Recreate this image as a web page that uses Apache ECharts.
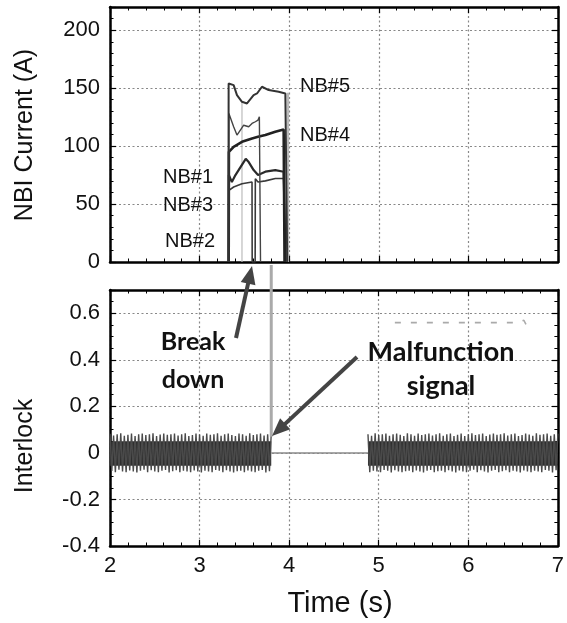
<!DOCTYPE html>
<html>
<head>
<meta charset="utf-8">
<script src="https://cdn.jsdelivr.net/npm/echarts@6/dist/echarts.min.js"></script>
<style>
html,body{margin:0;padding:0;background:#fff;}
#chart{width:567px;height:623px;}
</style>
</head>
<body>
<div id="chart"></div>
<script>
// ---------- data ----------
const xTicks = [2, 3, 4, 5, 6, 7];
const currentTicks = [0, 50, 100, 150, 200];
const interlockTicks = [-0.4, -0.2, 0, 0.2, 0.4, 0.6];

// NBI currents [time (s), current (A)]
const nb5 = [[3.322,0],[3.324,154],[3.38,152.6],[3.417,144],[3.473,138.2],[3.529,136.8],[3.603,144],[3.641,145.4],[3.696,151.2],[3.771,148.3],[3.882,146.8],[3.957,145.4],[3.975,145],[3.978,0]];
const nb2 = [[3.325,0],[3.327,128.2],[3.38,116.7],[3.417,109.5],[3.455,113.8],[3.492,118],[3.548,116.7],[3.585,119.5],[3.622,121],[3.652,122.4],[3.667,125.3],[3.678,125],[3.68,0]];
const nb4 = [[3.325,0],[3.327,95],[3.38,99.4],[3.473,103.7],[3.585,106.6],[3.652,108],[3.734,109.5],[3.845,112.4],[3.938,114.4],[3.946,114.4],[3.948,0]];
const nb1 = [[3.325,0],[3.327,75],[3.36,69],[3.40,75],[3.515,89],[3.55,86],[3.603,79.3],[3.652,75],[3.734,77.9],[3.845,79.3],[3.938,77.9],[3.957,77.9],[3.96,0]];
const nb3 = [[3.325,0],[3.327,61.8],[3.38,64.7],[3.473,67.5],[3.585,69],[3.587,0],[3.62,0],[3.622,71.8],[3.652,69],[3.734,70],[3.845,72.1],[3.938,72.1],[3.957,72],[3.96,0]];
const dropout1 = [[3.473,0],[3.473,138]];
const dropout2 = [[3.985,0],[3.985,146]];

// Interlock signal, sampled: start time, step, values (peaks)
const ilk1Start = 2.00, ilk1Step = 0.02;
const ilk1 = [
 0.082,-0.078,0.075,-0.083,0.08,-0.072,0.084,-0.08,0.074,-0.083,
 0.078,-0.075,0.083,-0.08,0.072,-0.084,0.08,-0.077,0.083,-0.072,
 0.077,-0.083,0.08,-0.074,0.084,-0.08,0.073,-0.083,0.079,-0.076,
 0.083,-0.073,0.078,-0.084,0.08,-0.079,0.083,-0.074,0.075,-0.083,
 0.08,-0.077,0.084,-0.08,0.073,-0.083,0.077,-0.075,0.083,-0.08,
 0.079,-0.084,0.074,-0.077,0.083,-0.08,0.078,-0.083,0.08,-0.073,
 0.084,-0.077,0.074,-0.083,0.08,-0.074,0.083,-0.08,0.077,-0.084,
 0.073,-0.079,0.083,-0.077,0.08,-0.083,0.074,-0.075,0.084,-0.08,
 0.077,-0.083,0.08,-0.077,0.083,-0.073,0.075,-0.084,0.08,-0.079,
 0.083];
const ilk2Start = 4.88, ilk2Step = 0.02;
const ilk2 = [
 0.08,-0.083,0.074,-0.077,0.084,-0.08,0.077,-0.083,0.08,-0.073,
 0.083,-0.077,0.074,-0.084,0.08,-0.074,0.083,-0.08,0.078,-0.083,
 0.073,-0.079,0.084,-0.077,0.08,-0.083,0.074,-0.075,0.083,-0.08,
 0.077,-0.084,0.08,-0.077,0.083,-0.073,0.075,-0.083,0.08,-0.079,
 0.084,-0.077,0.074,-0.083,0.08,-0.074,0.083,-0.08,0.073,-0.084,
 0.078,-0.075,0.083,-0.08,0.072,-0.083,0.08,-0.077,0.084,-0.072,
 0.077,-0.083,0.08,-0.074,0.083,-0.08,0.073,-0.084,0.079,-0.076,
 0.083,-0.073,0.078,-0.083,0.08,-0.079,0.084,-0.074,0.075,-0.083,
 0.08,-0.077,0.083,-0.08,0.073,-0.084,0.077,-0.075,0.083,-0.08,
 0.079,-0.083,0.074,-0.077,0.084,-0.08,0.078,-0.083,0.08,-0.073,
 0.083,-0.077,0.074,-0.084,0.08,-0.074,0.083];
// dense core of the oscillation (envelope: upper edge per segment, lower edge)
const core1 = [[2.00,0.05],[3.80,0.05]];
const core2 = [[4.88,0.05],[7.00,0.05]];
const coreLow = -0.055;
const ilkOff = [[3.80,0],[4.88,0]];
const faintTrace = [[5.18,0.56],[6.55,0.56],[6.62,0.57],[6.66,0.54]];
const malfunctionTime = 3.8;

// ---------- chart ----------
const chart = echarts.init(document.getElementById('chart'), null, {renderer:'canvas'});
const FONT = '"Liberation Sans", Arial, sans-serif';
const AX = '#000';

function sampled(start, step, vals){
  return vals.map((v,i)=>[Math.round((start+i*step)*1000)/1000, v]);
}

function xAx(grid, pos, labels){
  return {
    type:'value', gridIndex:grid, position:pos, min:2, max:7, interval:1,
    axisLine:{show:true, onZero:false, lineStyle:{color:AX, width:2.5}},
    axisTick:{show:true, inside:true, length:6, lineStyle:{color:AX, width:1.2}},
    minorTick:{show:true, splitNumber:5, length:3.5, lineStyle:{color:AX, width:1}},
    axisLabel:{show:labels, color:'#111', fontSize:22, fontFamily:FONT, margin:9},
    splitLine:{show:pos==='bottom', lineStyle:{color:'#888', type:[2,2.5], width:1.2}}
  };
}
function yAx(grid, pos, min, max, interval, minorSplit, labels){
  return {
    type:'value', gridIndex:grid, position:pos, min:min, max:max, interval:interval,
    axisLine:{show:true, onZero:false, lineStyle:{color:AX, width:2.5}},
    axisTick:{show:true, inside:true, length:6, lineStyle:{color:AX, width:1.2}},
    minorTick:{show:true, splitNumber:minorSplit, length:3.5, lineStyle:{color:AX, width:1}},
    axisLabel:{show:labels, color:'#111', fontSize:22, fontFamily:FONT, margin:10, showMaxLabel:false,
      formatter: v => String(Math.round(v*100)/100)},
    splitLine:{show:pos==='left', showMaxLine:false, lineStyle:{color:'#888', type:[2,2.5], width:1.2}}
  };
}

function line(name, data, x, y, color, width, extra){
  return Object.assign({
    name:name, type:'line', xAxisIndex:x, yAxisIndex:y, data:data,
    showSymbol:false, symbol:'none', silent:true, animation:false,
    lineStyle:{color:color, width:width}
  }, extra||{});
}
const coreStyle = {lineStyle:{width:0, opacity:0}, areaStyle:{color:'#2e2e2e', opacity:1, origin:coreLow}};

const option = {
  backgroundColor:'#fff',
  animation:false,
  grid:[
    {left:110, right:9, top:7, height:255},
    {left:110, right:9, top:290, height:256}
  ],
  xAxis:[ xAx(0,'bottom',false), xAx(0,'top',false), xAx(1,'bottom',true), xAx(1,'top',false) ],
  yAxis:[
    yAx(0,'left',0,220,50,5,true), yAx(0,'right',0,220,50,5,false),
    yAx(1,'left',-0.4,0.7,0.2,4,true), yAx(1,'right',-0.4,0.7,0.2,4,false)
  ],
  series:[
    line('dropout1', dropout1, 0,0,'#bbb',1.2),
    line('dropout2', dropout2, 0,0,'#bbb',2.5),
    line('NB#3', nb3, 0,0,'#3a3a3a',1.6),
    line('NB#1', nb1, 0,0,'#2a2a2a',2.2),
    line('NB#4', nb4, 0,0,'#222',2.6),
    line('NB#2', nb2, 0,0,'#444',1.4),
    line('NB#5', nb5, 0,0,'#333',2.0),
    line('faint', faintTrace, 2,2,'#aaa',1.6,{lineStyle:{color:'#aaa', width:1.6, type:[6,10]}}),
    line('Interlock off', ilkOff, 2,2,'#8a8a8a',1.5),
    line('Interlock 1', sampled(ilk1Start, ilk1Step, ilk1), 2,2,'#4a4a4a',1.4),
    line('Interlock 2', sampled(ilk2Start, ilk2Step, ilk2), 2,2,'#4a4a4a',1.4),
    line('Interlock core 1', core1, 2,2,'#2e2e2e',0, coreStyle),
    line('Interlock core 2', core2, 2,2,'#2e2e2e',0, coreStyle)
  ]
};
chart.setOption(option);

// ---------- annotations ----------
function arrow(x1,y1,x2,y2,color,w,hl,hw){
  const dx=x2-x1, dy=y2-y1, L=Math.sqrt(dx*dx+dy*dy), ux=dx/L, uy=dy/L;
  const bx=x2-ux*hl, by=y2-uy*hl, px=-uy, py=ux;
  return [
    {type:'line', z:120, shape:{x1:x1,y1:y1,x2:bx+ux*2,y2:by+uy*2}, style:{stroke:color, lineWidth:w}},
    {type:'polygon', z:120, shape:{points:[[x2,y2],[bx+px*hw/2,by+py*hw/2],[bx-px*hw/2,by-py*hw/2]]}, style:{fill:color}}
  ];
}
const mx = chart.convertToPixel({xAxisIndex:2}, malfunctionTime);
const topBottom = chart.convertToPixel({yAxisIndex:0}, 0);
const sigTop = chart.convertToPixel({yAxisIndex:2}, 0.07);

function txt(x,y,text,size,weight,family,align,rot){
  return {type:'text', z:130, x:x, y:y, rotation:rot||0,
    style:{text:text, fill:'#111', font:(weight||'normal')+' '+size+'px '+family,
      textAlign:align||'left', textVerticalAlign:'middle'}};
}
const ANN = 'Lato, "Open Sans", sans-serif';
const graphics = [
  {type:'line', z:110, shape:{x1:mx, y1:topBottom+3, x2:mx, y2:sigTop}, style:{stroke:'#aaa', lineWidth:3}},
  ...arrow(236,338,252,266,'#444',4,18,15),
  ...arrow(357,357,272,436,'#444',4,18,15),
  txt(193,342,'Break',25,'bold',ANN,'center'),
  txt(193,380,'down',25,'bold',ANN,'center'),
  txt(441,352,'Malfunction',27,'bold',ANN,'center'),
  txt(441,386,'signal',27,'bold',ANN,'center'),
  txt(300,86,'NB#5',20,'normal',FONT,'left'),
  txt(300,135,'NB#4',20,'normal',FONT,'left'),
  txt(163,177,'NB#1',20,'normal',FONT,'left'),
  txt(163,205,'NB#3',20,'normal',FONT,'left'),
  txt(165,241,'NB#2',20,'normal',FONT,'left'),
  txt(25,135,'NBI Current (A)',25,'normal',FONT,'center',Math.PI/2),
  txt(25,446,'Interlock',25,'normal',FONT,'center',Math.PI/2),
  txt(340,604,'Time (s)',29,'normal',FONT,'center')
];
chart.setOption({graphic:{elements:graphics}});
</script>
</body>
</html>
